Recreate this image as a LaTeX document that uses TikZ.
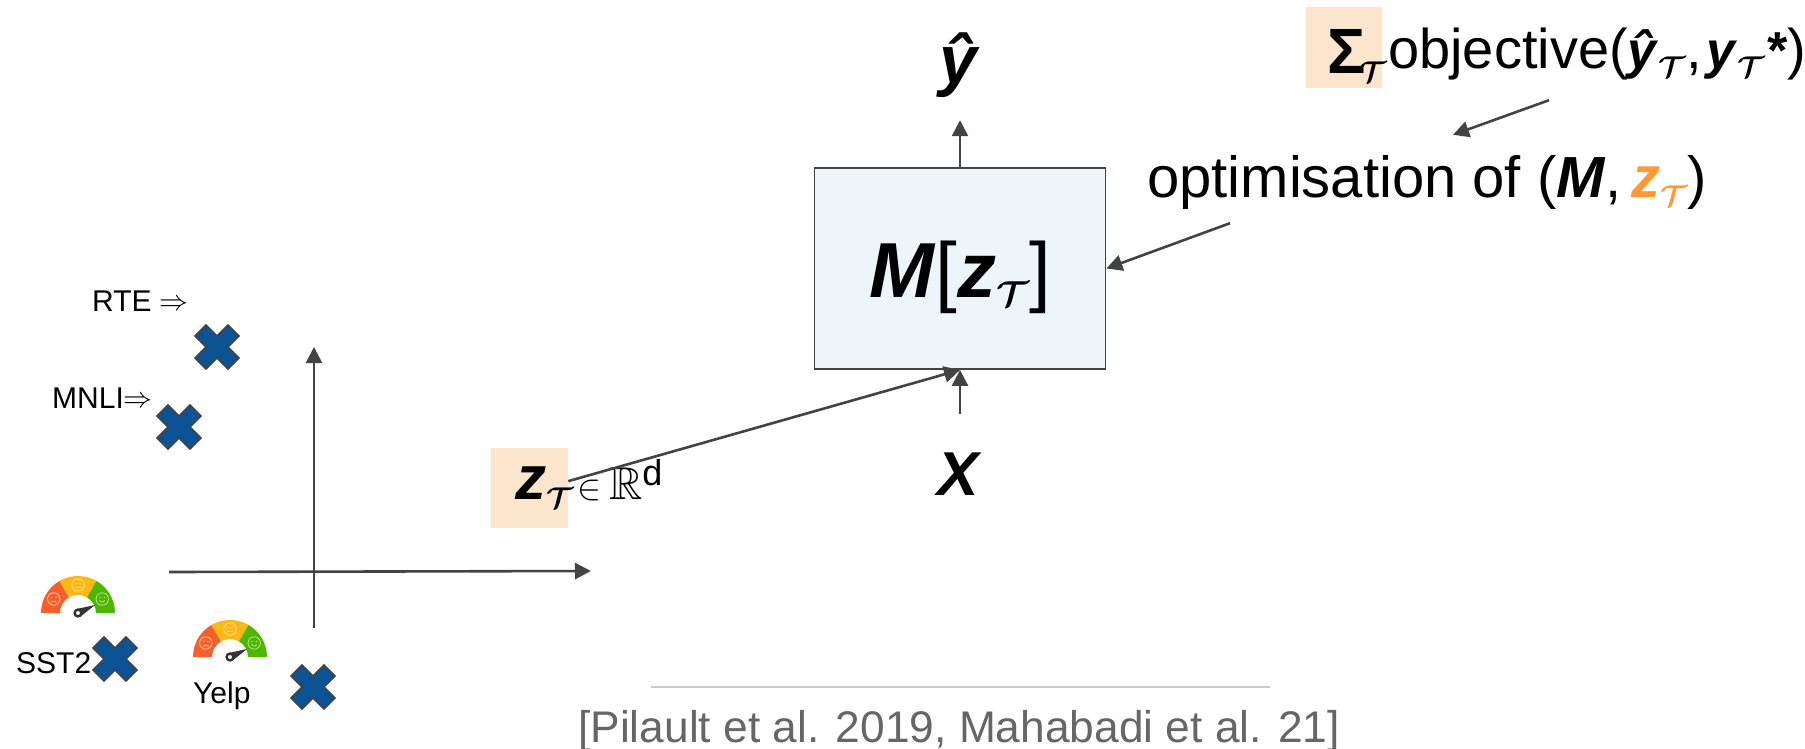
\documentclass[tikz,border=0pt]{standalone}
\usepackage{amsmath,amssymb}
\usepackage{fontspec}
\setmainfont{Liberation Sans}
\DeclareFontShape{OMS}{cmsy}{m}{n}{<->cmsy10}{}
\DeclareFontShape{OMS}{cmsy}{b}{n}{<->cmbsy10}{}
\usepackage{xcolor}
\definecolor{linedark}{HTML}{434343}
\definecolor{peach}{HTML}{FCE5CD}
\definecolor{modelblue}{HTML}{EEF5F9}
\definecolor{zorange}{HTML}{FF9933}
\definecolor{crossblue}{HTML}{0B5394}
\definecolor{footgray}{HTML}{666666}
\definecolor{gaugered}{HTML}{F4602A}
\definecolor{gaugeyellow}{HTML}{FDB813}
\definecolor{gaugegreen}{HTML}{4DB700}
\usetikzlibrary{arrows.meta,calc}
\newcommand{\fsz}[1]{\fontsize{#1}{#1}\selectfont}
\newcommand{\subT}[1][30]{\raisebox{-9pt}{\fsz{#1}\boldmath$\mathcal{T}$}}
\newcommand{\bi}[1]{\textbf{\textit{#1}}}
\tikzset{
  flow/.style={draw=linedark, line width=2.6pt, -{Triangle[length=16pt,width=16pt]}},
  word/.style={inner sep=0pt, anchor=base west, font=\fsz{56}},
  small/.style={inner sep=0pt, anchor=base west, font=\fsz{30}},
  hilite/.style={fill=peach, inner sep=0pt},
  pics/crossmark/.style={code={
    \draw[fill=crossblue, draw=linedark, line width=1.5pt]
      (11,-22) -- (22,-11) -- (11,0) -- (22,11) -- (11,22) -- (0,11)
      -- (-11,22) -- (-22,11) -- (-11,0) -- (-22,-11) -- (-11,-22) -- (0,-11) -- cycle;
  }},
  pics/gauge/.style={code={
    \begin{scope}[y=1pt]
    \foreach \a/\b/\c in {180/120/gaugered, 120/60/gaugeyellow, 60/0/gaugegreen} {
      \fill[\c] (\a:37) arc (\a:\b:37) -- (\b:18) arc (\b:\a:18) -- cycle;
    }
    % faces on the three sectors
    \foreach \a/\c/\m in {150/gaugered/2, 90/gaugeyellow/0, 30/gaugegreen/-2} {
      \begin{scope}[shift={(\a:28)}]
        \draw[\c!45!white, line width=0.9pt] (0,0) circle (6.2);
        \fill[\c!45!white] (-2.2,1.6) circle (0.8) (2.2,1.6) circle (0.8);
        \draw[\c!45!white, line width=0.8pt] (-2.8,-2.5-\m/2) .. controls (0,-2.5+\m/2) .. (2.8,-2.5-\m/2);
      \end{scope}
    }
    % needle
    \fill[black!80] (-1.5,4) -- (17,8) -- (2,-4) -- cycle;
    \draw[black!80, fill=white, line width=2.4pt] (0,0) circle (3.4);
    \end{scope}
  }},
}
\begin{document}
\begin{tikzpicture}[x=1pt,y=-1pt]
\useasboundingbox (0,0) rectangle (1805,748);

% Model box and its inputs
\node (model) [draw=linedark, fill=modelblue, line width=1.8pt, minimum width=291pt, minimum height=201pt,
  inner sep=0pt, text height=64pt, text depth=7pt, font=\fsz{78}] at (960,268.5)
  {\bi{M}[\bi{z}\subT[36]]};
\node (yhat) [inner xsep=0pt, inner ysep=0pt, text height=36pt, text depth=37pt, font=\fsz{68}, anchor=base] at (960,83) {\bi{ŷ}};
\node (xin) [inner sep=0pt, text height=81pt, text depth=0pt, font=\fsz{62}, anchor=base] at (960,495) {\bi{X}};
\draw[flow] (model.north) -- (yhat.south);
\draw[flow] (xin.north) -- (model.south);

% Task embedding
\node (ztask) [hilite, minimum width=77pt, minimum height=80pt] at (529.5,488) {};
\node (ztext) [inner sep=0pt, anchor=base west, font=\fsz{62}] at (515,499) {\bi{z}\subT};
\node (zspace) [inner sep=0pt, anchor=base west, font=\fsz{46}] at (577,499) {{\fsz{36}$\in$}\hspace{8pt}$\mathbb{R}$\raisebox{14pt}{\fsz{36}d}};
\draw[flow] (ztask.10) -- (model.south);

% Objective and optimisation
\node (sumtask) [hilite, minimum width=76pt, minimum height=81pt] at (1344,47.5) {};
\node (sumtext) [inner sep=0pt, anchor=base west, font=\fsz{64}] at (1327,73) {\textbf{Σ}};
\node (sumsub) [inner sep=0pt, anchor=base west] at (1359,73) {\subT};
\node (objective) [word, text height=43pt, text depth=32pt] at (1388,68)
  {objective({\fsz{52}\bi{ŷ}}\subT,\hspace{5pt}{\fsz{52}\bi{y}}\subT{\fsz{52}\bi{*}})};
\node (optim) [word, font=\fsz{58}, text height=62pt, text depth=26pt] at (1147,197)
  {optimisation of (\bi{M},\hspace{9pt}\textcolor{zorange}{\bi{z}\subT})};
\draw[flow] ([xshift=161pt]objective.south west) -- ([xshift=306pt]optim.north west);
\draw[flow] ([xshift=83pt]optim.south west) -- (model.east);

% Axes
\coordinate (xleft) at (169,572);
\coordinate (xright) at (591,571);
\coordinate (ybottom) at (314,628);
\coordinate (ytop) at (314,347);
\draw[flow] (xleft) -- (xright);
\draw[flow] (ybottom) -- (ytop);

% Task points
\foreach \x/\y in {217/347, 179/427, 115/659, 313/687} {
  \pic at (\x,\y) {crossmark};
}
\node (rte) [small] at (92,311) {RTE\hspace{8pt}\raisebox{1pt}{\fsz{29}$\Rightarrow$}};
\node (mnli) [small] at (52,408) {MNLI\raisebox{1pt}{\fsz{29}$\Rightarrow$}};
\node (sst) [small] at (16,673) {SST2};
\node (yelp) [small] at (193,703) {Yelp};
\pic at (78,613) {gauge};
\pic at (230,657) {gauge};

% Reference line
\draw[black!20, line width=1.2pt] (651,687) -- (1270,687);
\node (cite) [inner sep=0pt, anchor=base west, text=footgray, font=\fsz{44.3}] at (578,742)
  {[Pilault et al. 2019, Mahabadi et al. 21]};
\end{tikzpicture}
\end{document}
